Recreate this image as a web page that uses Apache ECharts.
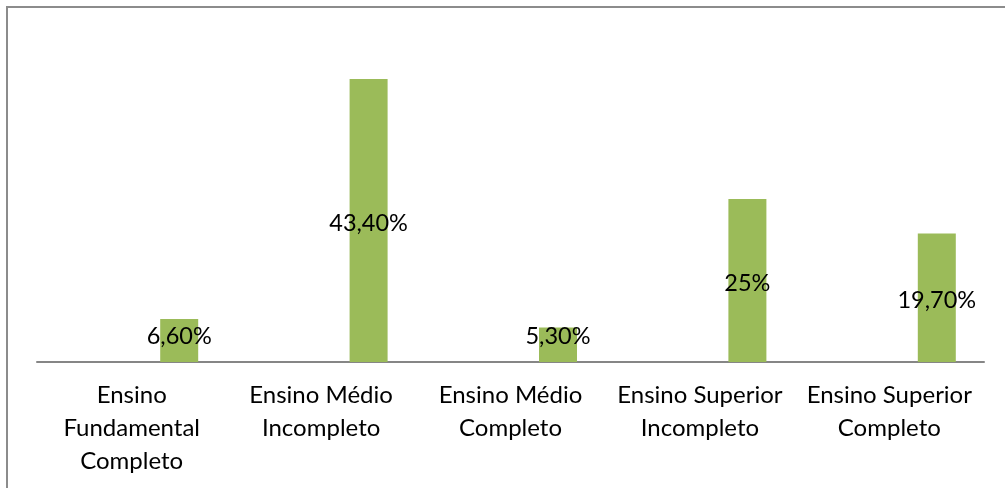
<!DOCTYPE html>
<html>
<head>
<meta charset="utf-8">
<script src="https://cdn.jsdelivr.net/npm/echarts@6/dist/echarts.min.js"></script>
<style>
  html, body { margin: 0; padding: 0; background: #fff; }
  #chart { width: 1005px; height: 488px; }
</style>
</head>
<body>
<div id="chart"></div>
<script>
// Education levels and their shares (%)
const categories = [
  'Ensino\nFundamental\nCompleto',
  'Ensino Médio\nIncompleto',
  'Ensino Médio\nCompleto',
  'Ensino Superior\nIncompleto',
  'Ensino Superior\nCompleto'
];
const values = [6.6, 43.4, 5.3, 25, 19.7];
const valueLabels = ['6,60%', '43,40%', '5,30%', '25%', '19,70%'];

const FONT = 'Lato, "Open Sans", sans-serif';
const Y_MAX = 50;
const PLOT_H = 326; // grid height in px

// labels sit in the middle of the bar, but never lower than 26px above the axis
function labelOffset(v) {
  const halfBar = (v / Y_MAX) * PLOT_H / 2;
  return halfBar < 26 ? halfBar - 26 : 3;
}

const chart = echarts.init(document.getElementById('chart'), null, { renderer: 'canvas' });
chart.setOption({
  animation: false,
  backgroundColor: '#ffffff',
  graphic: [{
    type: 'rect',
    shape: { x: 7, y: 7, width: 1100, height: 600 },
    style: { fill: 'none', stroke: '#8c8c8c', lineWidth: 2 },
    silent: true,
    z: 0
  }],
  grid: { left: 37, right: 21, top: 36, bottom: 126, containLabel: false },
  xAxis: {
    type: 'category',
    data: categories,
    axisLine: { show: true, lineStyle: { color: '#868686', width: 2 } },
    axisTick: { show: false },
    axisLabel: {
      interval: 0,
      margin: 17,
      color: '#000',
      fontFamily: FONT,
      fontSize: 24,
      lineHeight: 33,
      align: 'center'
    },
    splitLine: { show: false }
  },
  yAxis: {
    type: 'value',
    min: 0,
    max: Y_MAX,
    show: false,
    splitLine: { show: false }
  },
  series: [
    {
      // empty slot that keeps the visible bars right of the category centre
      type: 'bar',
      data: values.map(() => null),
      barWidth: 38,
      barGap: '150%',
      silent: true
    },
    {
      type: 'bar',
      data: values.map((v) => ({
        value: v,
        label: { offset: [0, labelOffset(v)] }
      })),
      barWidth: 38,
      barGap: '150%',
      itemStyle: { color: '#9bbb59' },
      label: {
        show: true,
        position: 'inside',
        color: '#000',
        fontFamily: FONT,
        fontSize: 23.5,
        formatter: (p) => valueLabels[p.dataIndex]
      }
    }
  ]
});
</script>
</body>
</html>
